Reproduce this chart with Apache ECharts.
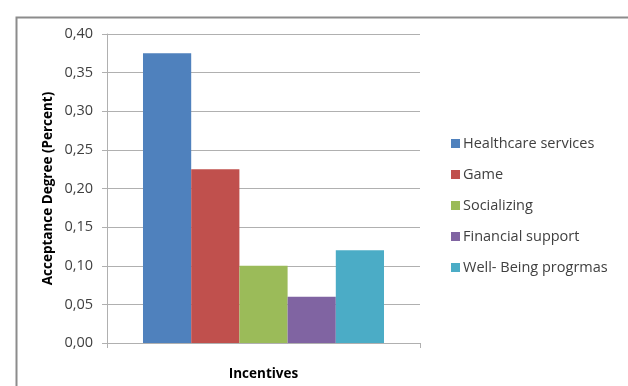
<!DOCTYPE html>
<html>
<head>
<meta charset="utf-8">
<script src="https://cdn.jsdelivr.net/npm/echarts@6/dist/echarts.min.js"></script>
<style>html,body{margin:0;padding:0;background:#fff;}#c{width:628px;height:386px;}</style>
</head>
<body>
<div id="c"></div>
<script>
const categories = [''];
const seriesNames = ['Healthcare services', 'Game', 'Socializing', 'Financial support', 'Well- Being progrmas'];
const seriesValues = [[0.375], [0.225], [0.10], [0.06], [0.12]];
const yTicks = { min: 0, max: 0.40, interval: 0.05 };
const colors = ['#4F81BD', '#C0504D', '#9BBB59', '#8064A2', '#4BACC6'];
const FONT = 'Open Sans';

const chart = echarts.init(document.getElementById('c'), null, { renderer: 'canvas' });
chart.setOption({
  animation: false,
  color: colors,
  textStyle: { fontFamily: FONT },
  graphic: [{
    type: 'rect', left: 14, top: 15, shape: { width: 700, height: 500 },
    style: { fill: 'none', stroke: '#8c8c8c', lineWidth: 2 }, silent: true, z: -1
  }],
  grid: { left: 107, top: 34, width: 313, height: 313 },
  legend: {
    orient: 'vertical', left: 446, top: 131,
    itemWidth: 9, itemHeight: 9, itemGap: 16,
    icon: 'rect',
    textStyle: { fontFamily: FONT, fontSize: 14.5, color: '#404040', padding: [0, 0, 0, -2] },
    data: seriesNames
  },
  xAxis: {
    type: 'category', data: categories,
    name: 'Incentives', nameLocation: 'middle', nameGap: 24,
    nameTextStyle: { fontFamily: FONT, fontSize: 13.5, fontWeight: 'bold', color: '#000' },
    axisLabel: { show: false },
    axisLine: { lineStyle: { color: '#b0b0b0' } },
    axisTick: { show: true, length: 5, lineStyle: { color: '#b0b0b0' } }
  },
  yAxis: {
    type: 'value', min: yTicks.min, max: yTicks.max, interval: yTicks.interval,
    name: 'Acceptance Degree (Percent)', nameLocation: 'middle', nameGap: 52,
    nameTextStyle: { fontFamily: FONT, fontSize: 13.5, fontWeight: 'bold', color: '#000' },
    axisLabel: { fontFamily: FONT, fontSize: 14.5, color: '#404040', margin: 14,
      formatter: v => v.toFixed(2).replace('.', ',') },
    axisLine: { show: true, lineStyle: { color: '#b0b0b0' } },
    axisTick: { show: true, length: 5, lineStyle: { color: '#b0b0b0' } },
    splitLine: { lineStyle: { color: '#b0b0b0' } }
  },
  series: seriesNames.map((n, i) => ({
    name: n, type: 'bar', data: seriesValues[i],
    barGap: '0%', barCategoryGap: '23%',
    itemStyle: { color: colors[i] }
  }))
});
</script>
</body>
</html>
